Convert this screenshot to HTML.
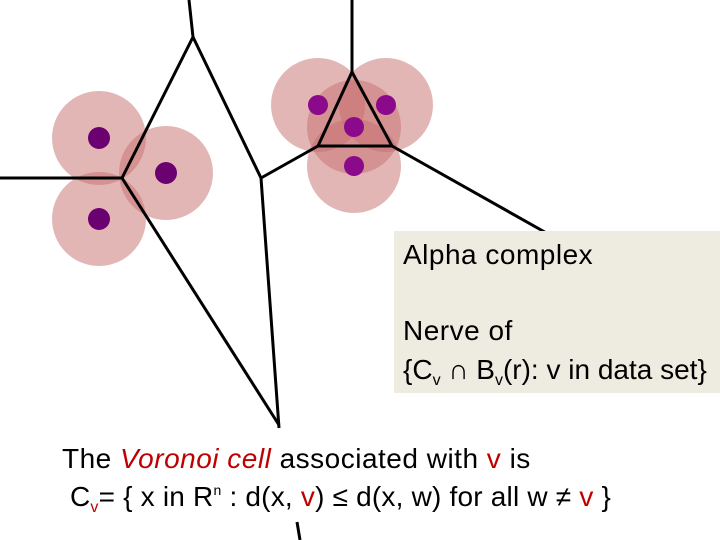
<!DOCTYPE html>
<html><head><style>
body{margin:0;width:720px;height:540px;background:#fff;overflow:hidden;position:relative;font-family:"Liberation Sans","DejaVu Sans",sans-serif}
.t{position:absolute;font-size:28px;color:#000;white-space:nowrap;letter-spacing:0.5px}
.r{color:#c00000}
sub{font-size:16px;vertical-align:-6px;line-height:0}
sup{font-size:14px;vertical-align:11px;line-height:0}
</style></head><body>
<svg width="720" height="540" style="position:absolute;left:0;top:0">
<g fill="rgb(200,110,110)" fill-opacity="0.5">
<circle cx="99" cy="138" r="47"/><circle cx="166" cy="173" r="47"/><circle cx="99" cy="219" r="47"/>
<circle cx="318" cy="105" r="47"/><circle cx="386" cy="105" r="47"/><circle cx="354" cy="127" r="47"/><circle cx="354" cy="166" r="47"/>
</g>
<g stroke="#000" stroke-width="3" fill="none" stroke-linejoin="miter">
<polyline points="189,0 193,37 122,178 0,178"/>
<polyline points="193,37 261,178 279,428"/>
<line x1="122" y1="178" x2="279" y2="425"/>
<line x1="261" y1="178" x2="318" y2="146"/>
<line x1="352" y1="0" x2="352" y2="72"/>
<polygon points="352,72 318,146 392,146"/>
<line x1="392" y1="146" x2="550" y2="235"/>
<line x1="297" y1="522" x2="300" y2="540"/>
</g>
<g fill="#6b0070"><circle cx="99" cy="138" r="11"/><circle cx="166" cy="173" r="11"/><circle cx="99" cy="219" r="11"/></g>
<g fill="#8b0a8b"><circle cx="318" cy="105" r="10"/><circle cx="386" cy="105" r="10"/><circle cx="354" cy="127" r="10"/><circle cx="354" cy="166" r="10"/></g>
<rect x="394" y="231" width="326" height="162" fill="#eeebe1"/>
</svg>
<div class="t" style="left:403px;top:239px">Alpha complex</div>
<div class="t" style="left:403px;top:315px">Nerve of</div>
<div class="t" style="left:403px;top:354px;letter-spacing:0">{C<sub>v</sub> ∩ B<sub>v</sub>(r): v in data set}</div>
<div class="t" style="left:62px;top:443px">The <i class="r">Voronoi cell</i> associated with <span class="r">v</span> is</div>
<div class="t" style="left:70px;top:481px;letter-spacing:0.2px">C<sub class="r">v</sub>= { x in R<sup>n</sup> : d(x, <span class="r">v</span>) ≤ d(x, w) for all w ≠ <span class="r">v</span> }</div>
</body></html>
